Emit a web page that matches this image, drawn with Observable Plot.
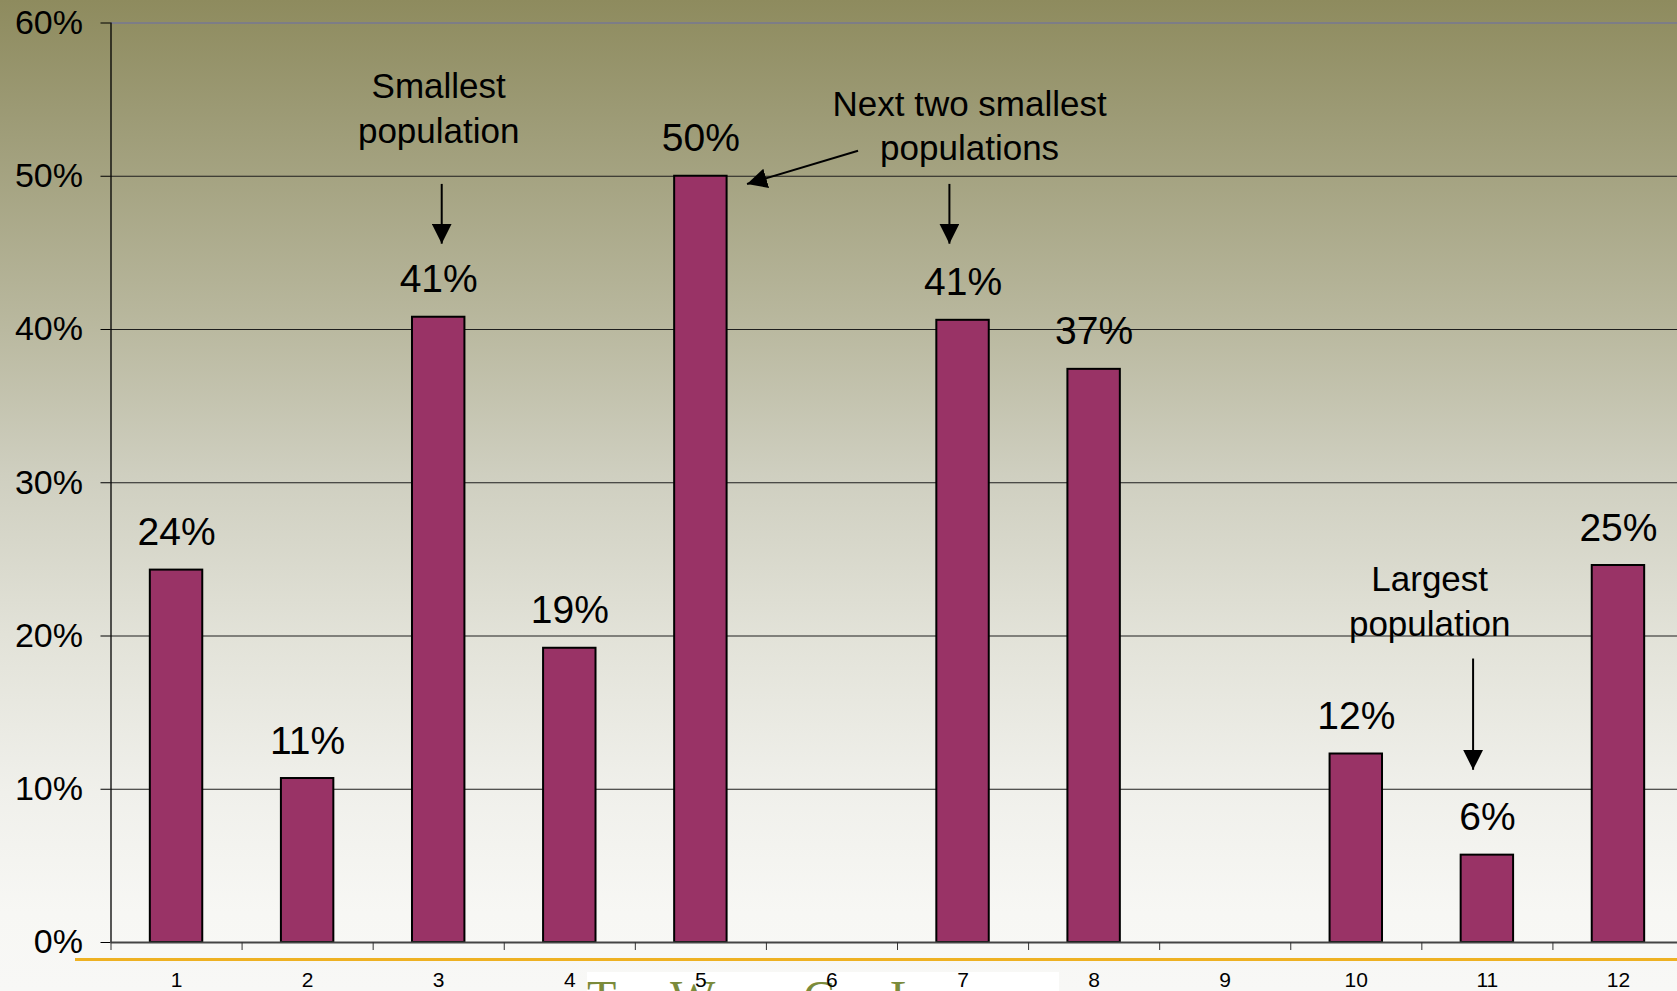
<!DOCTYPE html>
<html>
<head>
<meta charset="utf-8">
<script src="https://cdn.jsdelivr.net/npm/d3@7"></script>
<script src="https://cdn.jsdelivr.net/npm/@observablehq/plot@0.6"></script>
<style>
  html, body { margin: 0; padding: 0; }
  #wrap {
    position: relative; width: 1677px; height: 991px; overflow: hidden;
    background: linear-gradient(to bottom, #8e8b5e 0%, #9d9b76 12%, #b8b79d 32%, #cfcfc0 48%, #e2e2d8 64%, #f0f0eb 80%, #f7f7f4 92%, #f8f8f6 100%);
    font-family: "Liberation Sans", Arial, sans-serif;
  }
  #footerbox {
    position: absolute; left: 587px; top: 972px; width: 472px; height: 19px;
    background: #ffffff; overflow: hidden;
  }
  #footerbox span {
    position: absolute; top: 2px; font-family: "Liberation Serif", "Times New Roman", serif;
    font-size: 48px; line-height: 48px; font-variant: small-caps; color: #7b8b3b; white-space: nowrap;
  }
  #orange { position: absolute; left: 75px; top: 957.5px; width: 1602px; height: 3.3px; background: #eeb122; }
  #chart { position: absolute; left: 0; top: 0; }
</style>
</head>
<body>
<div id="wrap">
  <div id="footerbox">
    <span style="left:0px">The</span>
    <span style="left:83px">World</span>
    <span style="left:216px">Class</span>
    <span style="left:303px">Learning</span>
  </div>
  <div id="orange"></div>
  <div id="chart"></div>
</div>
<script>
// ---- data ----
const categories = [1, 2, 3, 4, 5, 6, 7, 8, 9, 10, 11, 12];
const values = [24.3, 10.7, 40.8, 19.2, 50.0, null, 40.6, 37.4, null, 12.3, 5.7, 24.6];
const yTicks = [0, 10, 20, 30, 40, 50, 60];

const noteText = ["Smallest\npopulation", "Next two smallest\npopulations", "Largest\npopulation"];
const noteX = [3.0, 7.05, 10.56];
const noteY = [52.2, 51.08, 20.03];
const noteLineHeight = [1.27, 1.24, 1.26];

const arrowX1 = [3.023, 6.199, 6.896, 10.891];
const arrowY1 = [49.5, 51.66, 49.5, 18.53];
const arrowX2 = [3.023, 5.352, 6.896, 10.891];
const arrowY2 = [45.6, 49.49, 45.6, 11.27];

// ---- tables built from arrays ----
const data = categories.map((c, i) => ({cat: c, value: values[i]})).filter(d => d.value != null);
const notes = noteText.map((t, i) => ({text: t, x: noteX[i], y: noteY[i], lh: noteLineHeight[i]}));
const arrows = arrowX1.map((x1, i) => ({x1, y1: arrowY1[i], x2: arrowX2[i], y2: arrowY2[i]}));
const boundaries = categories.map(c => c - 0.5).concat([categories[categories.length - 1] + 0.5]);

const W = 1677, H = 991;

const svg = Plot.plot({
  width: W,
  height: H,
  marginLeft: 110.5,
  marginRight: 0,
  marginTop: 22.5,
  marginBottom: 49,
  style: {background: "transparent", fontFamily: "'Liberation Sans', Arial, sans-serif", color: "#000", overflow: "visible"},
  x: {type: "linear", domain: [0.5, 12.5], range: [110.5, 1683.5]},
  y: {domain: [0, 60], range: [942, 22.5]},
  marks: [
    // gridlines
    Plot.ruleY(yTicks.filter(d => d > 0 && d < 60), {stroke: "#1e1e1e", strokeWidth: 1}),
    Plot.ruleY([60], {stroke: "#7d7d86", strokeWidth: 2}),
    // y axis
    Plot.axisY({ticks: yTicks, tickSize: 10, tickPadding: 18, tickFormat: d => d + "%", fontSize: 34, stroke: "#000", fill: "#000", label: null}),
    Plot.ruleX([0.5], {stroke: "#000", strokeWidth: 1.3}),
    // bars
    Plot.rectY(data, {x1: d => d.cat - 0.2, x2: d => d.cat + 0.2, y1: 0, y2: "value", fill: "#993366", stroke: "#000", strokeWidth: 2}),
    // baseline
    Plot.ruleY([0], {stroke: "#444", strokeWidth: 2.2}),
    // x axis: boundary ticks & labels
    Plot.axisX({ticks: boundaries, tickSize: 8, tickFormat: () => "", stroke: "#333", label: null}),
    Plot.axisX({ticks: categories, tickSize: 0, tickPadding: 30, fontSize: 21, fill: "#000", label: null}),
    // data labels
    Plot.text(data, {x: "cat", y: "value", text: d => Math.round(d.value) + "%", dy: -25, lineAnchor: "bottom", fontSize: 39, fill: "#000"}),
    // annotations
    ...notes.map(n => Plot.text([n], {x: "x", y: "y", text: "text", lineAnchor: "bottom", lineHeight: n.lh, fontSize: 35, fill: "#000"})),
    Plot.link(arrows, {x1: "x1", y1: "y1", x2: "x2", y2: "y2", stroke: "#000", strokeWidth: 2})
  ]
});

// filled triangular arrowheads for the annotation links
const ns = "http://www.w3.org/2000/svg";
const defs = document.createElementNS(ns, "defs");
const marker = document.createElementNS(ns, "marker");
marker.setAttribute("id", "tri-head");
marker.setAttribute("markerUnits", "userSpaceOnUse");
marker.setAttribute("markerWidth", "20");
marker.setAttribute("markerHeight", "20");
marker.setAttribute("viewBox", "0 0 20 20");
marker.setAttribute("refX", "20");
marker.setAttribute("refY", "10");
marker.setAttribute("orient", "auto");
const mp = document.createElementNS(ns, "path");
mp.setAttribute("d", "M0,0 L20,10 L0,20 Z");
mp.setAttribute("fill", "#000");
marker.appendChild(mp);
defs.appendChild(marker);
svg.insertBefore(defs, svg.firstChild);
svg.querySelectorAll('g[aria-label="link"] path').forEach(p => p.setAttribute("marker-end", "url(#tri-head)"));

document.getElementById("chart").appendChild(svg);
</script>
</body>
</html>
